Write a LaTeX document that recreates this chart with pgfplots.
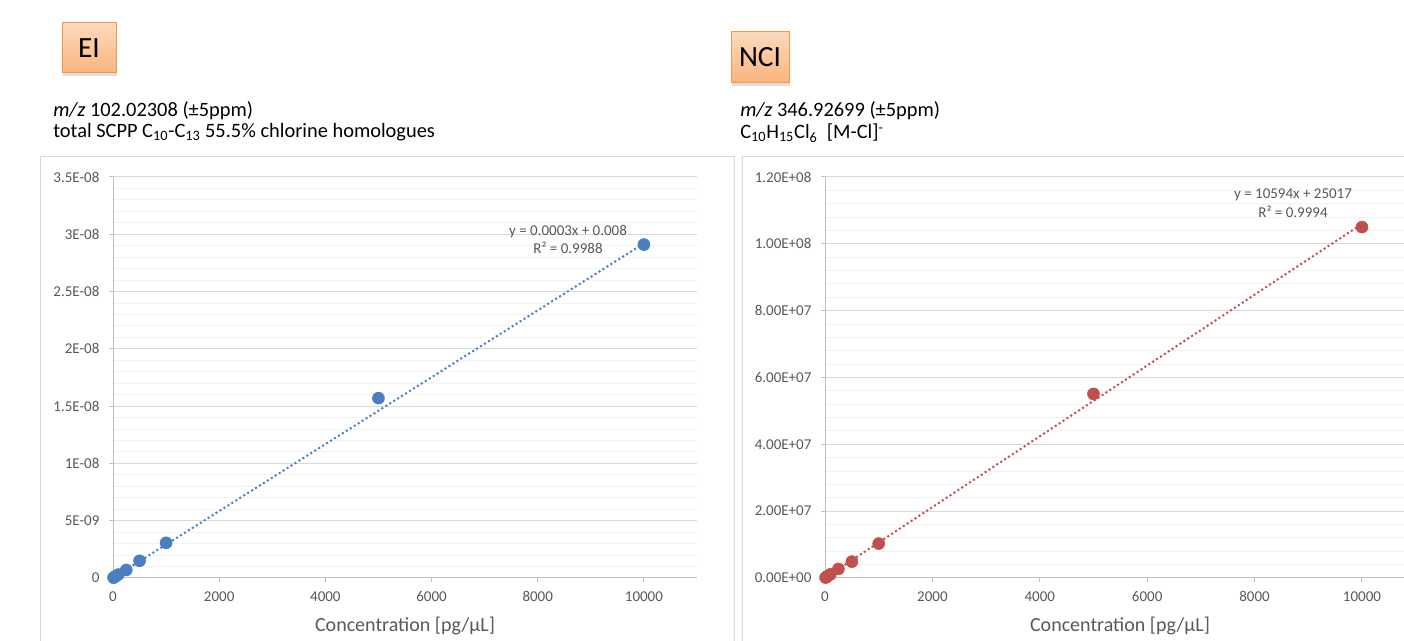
\documentclass[border=0pt]{standalone}
\usepackage{pgfplots}
\pgfplotsset{compat=1.18}
\usepackage{fontspec}
\setmainfont{Carlito}
\usetikzlibrary{shadows}

\definecolor{exblue}{RGB}{74,126,193}
\definecolor{exred}{RGB}{192,80,77}
\definecolor{gridmaj}{RGB}{217,217,217}
\definecolor{gridmin}{RGB}{242,242,242}
\definecolor{axgray}{RGB}{191,191,191}
\definecolor{txt}{RGB}{89,89,89}
\definecolor{boxline}{RGB}{247,150,70}
\definecolor{boxtop}{RGB}{252,218,190}
\definecolor{boxbot}{RGB}{249,180,125}

\pgfplotsset{
  excel/.style={
    scale only axis,
    anchor=south west,
    axis lines=left,
    axis line style={-, draw=axgray, line width=0.75pt},
    xmin=0, xmax=11000, ymin=0,
    scaled ticks=false,
    xtick={0,2000,4000,6000,8000,10000},
    xticklabels={0,2000,4000,6000,8000,10000},
    ymajorgrids, yminorgrids,
    minor y tick num=4,
    major grid style={draw=gridmaj, line width=0.75pt},
    minor grid style={draw=gridmin, line width=0.75pt},
    tick align=outside,
    major tick length=3pt,
    minor tick length=0pt,
    tick style={draw=axgray, line width=0.75pt},
    every tick label/.append style={font=\fontsize{11.25}{13}\selectfont, text=txt, inner sep=0pt},
    xticklabel style={yshift=-7pt},
    yticklabel style={xshift=-7pt},
    /pgf/number format/assume math mode=true,
    clip=false,
  },
  trend/.style={line width=1.5pt, dash pattern=on 1.5pt off 2pt},
  pts/.style={only marks, mark=*, mark size=4.5pt},
}

\begin{document}
\begin{tikzpicture}[x=0.75pt, y=0.75pt]
\path[use as bounding box] (0,0) rectangle (1404,641);
\clip (0,0) rectangle (1404,641);
\fill[white] (0,0) rectangle (1404,641);

% chart frames
\draw[gridmaj, line width=0.75pt] (40.5,-10) -- (40.5,484) -- (734,484) -- (734,-10);
\draw[gridmaj, line width=0.75pt] (742.5,-10) -- (742.5,484) -- (1420,484);

% EI / NCI boxes
\node[draw=boxline, line width=0.75pt, top color=boxtop, bottom color=boxbot,
      drop shadow={opacity=0.25, shadow xshift=1pt, shadow yshift=-2pt},
      minimum width=40.5pt, minimum height=37.5pt, inner sep=0pt,
      font=\fontsize{22}{26}\selectfont] at (89,593) {EI};
\node[draw=boxline, line width=0.75pt, top color=boxtop, bottom color=boxbot,
      drop shadow={opacity=0.25, shadow xshift=1pt, shadow yshift=-2pt},
      minimum width=43.5pt, minimum height=38.25pt, inner sep=0pt,
      font=\fontsize{22}{26}\selectfont] at (760,583.5) {NCI};

% titles
\node[anchor=base west, inner sep=0pt, font=\fontsize{15.3}{18}\selectfont] at (53,524)
  {\textit{m/z} 102.02308 (±5ppm)};
\node[anchor=base west, inner sep=0pt, font=\fontsize{15.3}{18}\selectfont] at (53,503)
  {total SCPP C\textsubscript{10}-C\textsubscript{13} 55.5\% chlorine homologues};
\node[anchor=base west, inner sep=0pt, font=\fontsize{15.3}{18}\selectfont] at (740,524)
  {\textit{m/z} 346.92699 (±5ppm)};
\node[anchor=base west, inner sep=0pt, font=\fontsize{15.3}{18}\selectfont] at (740,502)
  {C\textsubscript{10}H\textsubscript{15}Cl\textsubscript{6}\ \ [M-Cl]\textsuperscript{-}};

% EI calibration
\begin{axis}[excel, at={(84.75pt,47.25pt)}, width=438pt, height=300.75pt,
    ymax=3.5e-8,
    ytick={0,5e-9,1e-8,1.5e-8,2e-8,2.5e-8,3e-8,3.5e-8},
    yticklabels={0,5E-09,1E-08,1.5E-08,2E-08,2.5E-08,3E-08,3.5E-08}]
\addplot[exblue, trend] coordinates {(0,0) (10000,2.92e-8)};
\addplot[exblue, pts] coordinates {
  (10,3e-11) (25,7e-11) (50,1.5e-10) (100,3e-10) (250,7e-10)
  (500,1.5e-9) (1000,3.07e-9) (5000,1.57e-8) (10000,2.91e-8)};
\end{axis}

% NCI calibration
\begin{axis}[excel, at={(618.75pt,47.25pt)}, width=443pt, height=300.75pt,
    ymax=1.2e8,
    ytick={0,2e7,4e7,6e7,8e7,1e8,1.2e8},
    yticklabels={0.00E+00,2.00E+07,4.00E+07,6.00E+07,8.00E+07,1.00E+08,1.20E+08}]
\addplot[exred, trend] coordinates {(0,25017) (10000,105965017)};
\addplot[exred, pts] coordinates {
  (10,1.3e5) (25,2.9e5) (50,5.5e5) (100,1.1e6) (250,2.7e6)
  (500,4.9e6) (1000,1.03e7) (5000,5.51e7) (10000,1.05e8)};
\end{axis}

% trendline labels
\node[font=\fontsize{11.25}{13}\selectfont, text=txt, anchor=base, inner sep=0pt] at (568,405) {y = 0.0003x + 0.008};
\node[font=\fontsize{11.25}{13}\selectfont, text=txt, anchor=base, inner sep=0pt] at (568,387) {R² = 0.9988};
\node[font=\fontsize{11.25}{13}\selectfont, text=txt, anchor=base, inner sep=0pt] at (1293,442) {y = 10594x + 25017};
\node[font=\fontsize{11.25}{13}\selectfont, text=txt, anchor=base, inner sep=0pt] at (1293,423) {R² = 0.9994};

% axis titles
\node[font=\fontsize{15}{18}\selectfont, text=txt, anchor=base, inner sep=0pt] at (405,9) {Concentration [pg/µL]};
\node[font=\fontsize{15}{18}\selectfont, text=txt, anchor=base, inner sep=0pt] at (1120,9) {Concentration [pg/µL]};
\end{tikzpicture}
\end{document}
